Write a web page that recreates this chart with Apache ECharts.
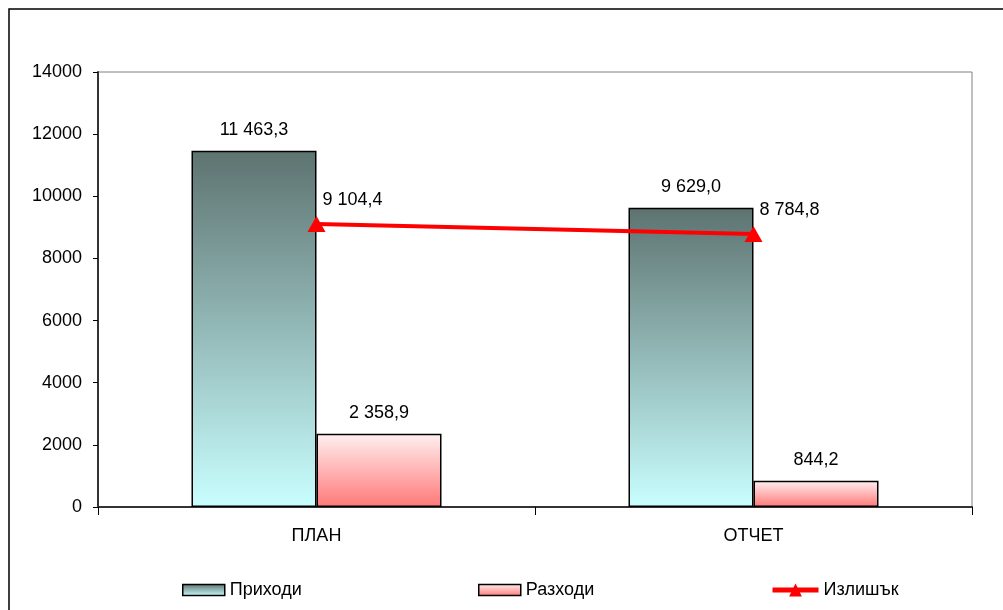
<!DOCTYPE html>
<html>
<head>
<meta charset="utf-8">
<script src="https://cdn.jsdelivr.net/npm/echarts@6/dist/echarts.min.js"></script>
<style>
  html, body { margin: 0; padding: 0; background: #fff; }
  #chart { width: 1003px; height: 610px; }
</style>
</head>
<body>
<div id="chart"></div>
<script>
const categories = ['ПЛАН', 'ОТЧЕТ']
const incomeValues = [11463.3, 9629.0]
const expenseValues = [2358.9, 844.2]
const surplusValues = [9104.4, 8784.8]
const seriesNames = ['Приходи', 'Разходи', 'Излишък']

const font = "'Liberation Sans', Arial, sans-serif"

// 11463.3 -> "11 463,3"
const fmt = v => {
  const parts = v.toFixed(1).split('.')
  return parts[0].replace(/\B(?=(\d{3})+(?!\d))/g, ' ') + ',' + parts[1]
}

const incomeFill = new echarts.graphic.LinearGradient(0, 0, 0, 1, [
  { offset: 0, color: '#5d7370' },
  { offset: 1, color: '#c9ffff' }
])
const expenseFill = new echarts.graphic.LinearGradient(0, 0, 0, 1, [
  { offset: 0, color: '#fff0f0' },
  { offset: 1, color: '#ff7878' }
])

const chart = echarts.init(document.getElementById('chart'))

const legendBase = {
  bottom: 11,
  padding: 0,
  itemWidth: 42,
  itemHeight: 11,
  itemGap: 4,
  textStyle: { color: '#000', fontSize: 18, fontFamily: font }
}

chart.setOption({
  backgroundColor: '#fff',
  animation: false,
  graphic: [{
    type: 'rect',
    shape: { x: 9, y: 9, width: 1020, height: 640 },
    style: { fill: 'none', stroke: '#000', lineWidth: 1.5 },
    silent: true
  }],
  legend: [
    { ...legendBase, left: 182, icon: 'rect', itemStyle: { borderColor: '#000', borderWidth: 1.5 }, data: [seriesNames[0]] },
    { ...legendBase, left: 478, icon: 'rect', itemStyle: { borderColor: '#000', borderWidth: 1.5 }, data: [seriesNames[1]] },
    { ...legendBase, left: 770, itemWidth: 46, itemHeight: 16, lineStyle: { width: 5 }, data: [seriesNames[2]] }
  ],
  grid: {
    left: 98,
    right: 31,
    top: 72,
    bottom: 103,
    show: true,
    borderColor: '#808080',
    borderWidth: 1
  },
  xAxis: {
    type: 'category',
    data: categories,
    axisLine: { lineStyle: { color: '#333', width: 2 } },
    axisTick: { show: true, length: 8, lineStyle: { color: '#000' } },
    axisLabel: { color: '#000', fontSize: 18, fontFamily: font, margin: 20 }
  },
  yAxis: {
    type: 'value',
    min: 0,
    max: 14000,
    interval: 2000,
    axisLine: { show: true, lineStyle: { color: '#333', width: 2 } },
    axisTick: { show: true, length: 5, lineStyle: { color: '#000' } },
    axisLabel: { color: '#000', fontSize: 18, fontFamily: font, margin: 16, formatter: v => String(v) },
    splitLine: { show: false }
  },
  series: [
    {
      name: seriesNames[0],
      type: 'bar',
      data: incomeValues,
      barWidth: 125,
      barGap: '0%',
      itemStyle: { color: incomeFill, borderColor: '#000', borderWidth: 1.5 },
      label: {
        show: true,
        position: 'top',
        distance: 12,
        color: '#000',
        fontSize: 18,
        fontFamily: font,
        formatter: p => fmt(p.value)
      }
    },
    {
      name: seriesNames[1],
      type: 'bar',
      data: expenseValues,
      barWidth: 125,
      itemStyle: { color: expenseFill, borderColor: '#000', borderWidth: 1.5 },
      label: {
        show: true,
        position: 'top',
        distance: 12,
        color: '#000',
        fontSize: 18,
        fontFamily: font,
        formatter: p => fmt(p.value)
      }
    },
    {
      name: seriesNames[2],
      type: 'line',
      data: surplusValues,
      symbol: 'triangle',
      symbolSize: [18, 16],
      lineStyle: { color: '#ff0000', width: 4 },
      itemStyle: { color: '#ff0000' },
      z: 5,
      label: {
        show: true,
        position: 'right',
        distance: 5,
        offset: [-8, -24],
        color: '#000',
        fontSize: 18,
        fontFamily: font,
        formatter: p => fmt(p.value)
      }
    }
  ]
})
</script>
</body>
</html>
